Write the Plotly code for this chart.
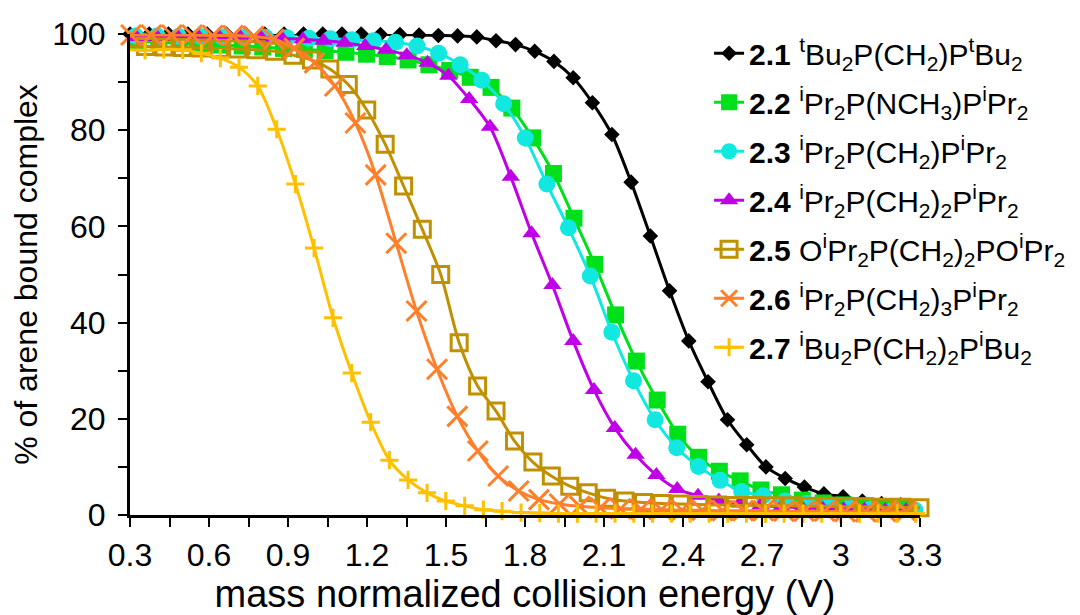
import plotly.graph_objects as go

# ---------------- data ----------------
x_21 = [0.300, 0.373, 0.446, 0.520, 0.593, 0.666, 0.739, 0.812, 0.885, 0.959, 1.032, 1.105, 1.178, 1.251,
        1.325, 1.398, 1.471, 1.544, 1.617, 1.690, 1.764, 1.837, 1.910, 1.983, 2.056, 2.130, 2.203, 2.276,
        2.349, 2.422, 2.495, 2.569, 2.642, 2.715, 2.788, 2.861, 2.935, 3.008, 3.081, 3.154, 3.227]
y_21 = [100.0, 100.0, 100.0, 100.0, 100.0, 100.0, 100.0, 100.0, 100.0, 100.0, 100.0, 100.0, 100.0, 99.9,
        99.9, 99.8, 99.7, 99.6, 99.4, 98.6, 97.8, 96.4, 94.3, 90.9, 85.7, 79.1, 69.2, 58.0,
        46.6, 36.2, 27.7, 19.8, 14.6, 10.0, 7.6, 5.8, 4.4, 3.8, 2.9, 2.4, 2.1]

x_22 = [0.332, 0.410, 0.489, 0.568, 0.647, 0.726, 0.804, 0.883, 0.962, 1.041, 1.120, 1.198, 1.277, 1.356,
        1.435, 1.514, 1.592, 1.671, 1.750, 1.829, 1.908, 1.986, 2.065, 2.144, 2.223, 2.302, 2.380, 2.459,
        2.538, 2.617, 2.696, 2.774, 2.853, 2.932, 3.011, 3.090, 3.168, 3.247]
y_22 = [98.5, 98.3, 98.1, 97.9, 97.7, 97.5, 97.3, 97.0, 96.8, 96.5, 96.2, 95.8, 95.3, 94.6,
        93.6, 92.4, 91.0, 88.9, 84.6, 78.4, 71.0, 61.7, 52.1, 41.6, 32.0, 23.9, 16.8, 12.0,
        9.1, 7.1, 5.2, 4.2, 3.1, 2.5, 2.1, 1.9, 1.5, 1.4]

x_23 = [0.321, 0.403, 0.485, 0.568, 0.650, 0.732, 0.814, 0.896, 0.979, 1.061, 1.143, 1.225, 1.308, 1.390,
        1.472, 1.554, 1.636, 1.719, 1.801, 1.883, 1.965, 2.048, 2.130, 2.212, 2.294, 2.376, 2.459, 2.541,
        2.623, 2.705, 2.788, 2.870, 2.952, 3.034, 3.116, 3.199, 3.281]
y_23 = [99.6, 99.6, 99.5, 99.5, 99.4, 99.4, 99.3, 99.2, 99.1, 99.0, 98.8, 98.6, 98.3, 97.5,
        96.0, 93.6, 90.4, 85.5, 78.4, 68.8, 59.7, 49.7, 38.0, 27.9, 19.8, 14.0, 10.1, 7.2,
        4.9, 4.0, 2.9, 2.4, 1.9, 1.6, 1.3, 1.1, 1.0]

x_24 = [0.324, 0.403, 0.482, 0.561, 0.640, 0.719, 0.798, 0.877, 0.956, 1.035, 1.114, 1.193, 1.272, 1.351,
        1.430, 1.509, 1.588, 1.667, 1.746, 1.825, 1.904, 1.983, 2.062, 2.141, 2.220, 2.299, 2.378, 2.457,
        2.536, 2.615, 2.694, 2.773, 2.852, 2.931, 3.010, 3.089, 3.168, 3.247]
y_24 = [99.4, 99.4, 99.4, 99.4, 99.3, 99.3, 99.2, 99.1, 98.9, 98.6, 98.2, 97.5, 96.7, 95.6,
        94.0, 91.3, 86.5, 80.7, 70.3, 58.6, 47.8, 36.2, 26.0, 18.1, 12.5, 8.3, 5.4, 4.0,
        3.0, 2.4, 2.0, 1.7, 1.5, 1.3, 1.2, 1.1, 1.0, 1.0]

x_25 = [0.289, 0.359, 0.429, 0.499, 0.569, 0.639, 0.709, 0.779, 0.849, 0.919, 0.989, 1.059, 1.129, 1.199,
        1.269, 1.339, 1.410, 1.480, 1.550, 1.620, 1.690, 1.760, 1.830, 1.900, 1.970, 2.040, 2.110, 2.180,
        2.250, 2.320, 2.390, 2.460, 2.531, 2.601, 2.671, 2.741, 2.811, 2.881, 2.951, 3.021, 3.091, 3.161,
        3.231, 3.300]
y_25 = [97.5, 97.4, 97.3, 97.2, 97.1, 97.0, 96.9, 96.7, 96.4, 95.6, 94.6, 92.7, 89.5, 84.2,
        77.1, 68.4, 59.4, 50.0, 35.8, 26.8, 21.6, 15.4, 11.0, 8.1, 6.0, 4.6, 3.5, 2.9,
        2.6, 2.4, 2.3, 2.2, 2.1, 2.0, 2.0, 1.9, 1.9, 1.8, 1.8, 1.7, 1.7, 1.6,
        1.6, 1.5]

x_26 = [0.304, 0.381, 0.459, 0.536, 0.614, 0.691, 0.769, 0.846, 0.924, 1.001, 1.078, 1.156, 1.233, 1.311,
        1.388, 1.466, 1.543, 1.621, 1.698, 1.776, 1.853, 1.931, 2.008, 2.086, 2.163, 2.241, 2.318, 2.396,
        2.473, 2.550, 2.628, 2.705, 2.783, 2.860, 2.938, 3.015, 3.093, 3.170, 3.248]
y_26 = [99.8, 99.8, 99.8, 99.8, 99.7, 99.7, 99.5, 98.9, 97.0, 94.0, 89.2, 81.5, 70.7, 56.5,
        42.4, 30.3, 20.5, 13.3, 8.1, 5.0, 3.2, 2.3, 1.8, 1.5, 1.3, 1.2, 1.1, 1.0,
        1.0, 0.9, 0.9, 0.9, 0.8, 0.8, 0.8, 0.7, 0.7, 0.7, 0.7]

x_27 = [0.286, 0.357, 0.428, 0.500, 0.571, 0.643, 0.714, 0.785, 0.857, 0.928, 0.999, 1.071, 1.142, 1.214,
        1.285, 1.356, 1.428, 1.499, 1.571, 1.642, 1.713, 1.785, 1.856, 1.927, 1.999, 2.070, 2.142, 2.213,
        2.284, 2.356, 2.427, 2.499, 2.570, 2.641, 2.713, 2.784, 2.856, 2.927, 2.999, 3.070, 3.141, 3.213,
        3.284]
y_27 = [96.8, 96.6, 96.8, 96.7, 96.0, 95.0, 93.1, 89.2, 80.2, 68.8, 55.5, 41.0, 29.5, 19.3,
        11.4, 7.3, 4.6, 2.9, 1.9, 1.1, 0.8, 0.5, 0.4, 0.3, 0.3, 0.3, 0.3, 0.3,
        0.3, 0.3, 0.3, 0.3, 0.3, 0.3, 0.3, 0.3, 0.3, 0.3, 0.3, 0.3, 0.3, 0.3,
        0.3]

series_names = [
    "<b>2.1</b> <sup>t</sup>Bu<sub>2</sub>P(CH<sub>2</sub>)P<sup>t</sup>Bu<sub>2</sub>",
    "<b>2.2</b> <sup>i</sup>Pr<sub>2</sub>P(NCH<sub>3</sub>)P<sup>i</sup>Pr<sub>2</sub>",
    "<b>2.3</b> <sup>i</sup>Pr<sub>2</sub>P(CH<sub>2</sub>)P<sup>i</sup>Pr<sub>2</sub>",
    "<b>2.4</b> <sup>i</sup>Pr<sub>2</sub>P(CH<sub>2</sub>)<sub>2</sub>P<sup>i</sup>Pr<sub>2</sub>",
    "<b>2.5</b> O<sup>i</sup>Pr<sub>2</sub>P(CH<sub>2</sub>)<sub>2</sub>PO<sup>i</sup>Pr<sub>2</sub>",
    "<b>2.6</b> <sup>i</sup>Pr<sub>2</sub>P(CH<sub>2</sub>)<sub>3</sub>P<sup>i</sup>Pr<sub>2</sub>",
    "<b>2.7</b> <sup>i</sup>Bu<sub>2</sub>P(CH<sub>2</sub>)<sub>2</sub>P<sup>i</sup>Bu<sub>2</sub>",
]

x_tick_vals = [0.3, 0.6, 0.9, 1.2, 1.5, 1.8, 2.1, 2.4, 2.7, 3.0, 3.3]
x_tick_text = ["0.3", "0.6", "0.9", "1.2", "1.5", "1.8", "2.1", "2.4", "2.7", "3", "3.3"]
y_tick_vals = [0, 20, 40, 60, 80, 100]

# ---------------- styles ----------------
styles = [
    dict(color="#000000", symbol="diamond", size=12, open=False),
    dict(color="#00E01A", symbol="square", size=17, open=False),
    dict(color="#10E8E0", symbol="circle", size=17, open=False),
    dict(color="#C000E6", symbol="triangle-up", size=16, open=False),
    dict(color="#C09000", symbol="square-open", size=16, open=True),
    dict(color="#FF7F2A", symbol="x-thin-open", size=20, open=True),
    dict(color="#FFC000", symbol="cross-thin-open", size=13, open=True),
]

xs = [x_21, x_22, x_23, x_24, x_25, x_26, x_27]
ys = [y_21, y_22, y_23, y_24, y_25, y_26, y_27]

FONT = "Liberation Sans, Arial, sans-serif"

fig = go.Figure()
for i, (xv, yv, nm, st) in enumerate(zip(xs, ys, series_names, styles)):
    marker = dict(symbol=st["symbol"], size=st["size"], color=st["color"])
    if st["open"]:
        marker["line"] = dict(width=3, color=st["color"])
    else:
        marker["line"] = dict(width=0)
    fig.add_trace(go.Scatter(
        x=xv, y=yv, name=nm, mode="lines+markers",
        line=dict(color=st["color"], width=3, shape="spline", smoothing=0.8),
        marker=marker, cliponaxis=False, legendgroup=str(i),
    ))

fig.update_layout(
    width=1080, height=615,
    margin=dict(l=122, r=168, t=26, b=108, autoexpand=False),
    paper_bgcolor="white", plot_bgcolor="white",
    font=dict(family=FONT, color="black", size=32),
    showlegend=True,
    legend=dict(
        x=0.733, y=1.014, xanchor="left", yanchor="top",
        bgcolor="rgba(0,0,0,0)", font=dict(size=30, family=FONT, color="black"),
        itemwidth=30, tracegroupgap=7, traceorder="grouped", maxheight=600,
    ),
    xaxis=dict(
        range=[0.3, 3.3], tickmode="array", tickvals=x_tick_vals, ticktext=x_tick_text,
        ticks="outside", ticklen=9, tickwidth=2, tickcolor="black", ticklabelstandoff=1,
        minor=dict(dtick=0.15, tick0=0.3, ticks="outside", ticklen=9, tickwidth=2, tickcolor="black"),
        showline=True, linecolor="black", linewidth=3, showgrid=False, zeroline=False,
        automargin=False,
        tickfont=dict(size=32, family=FONT),
        title=dict(text="mass normalized collision energy (V)", font=dict(size=38, family=FONT), standoff=0),
    ),
    yaxis=dict(
        range=[0, 100], tickmode="array", tickvals=y_tick_vals,
        ticks="outside", ticklen=9, tickwidth=2, tickcolor="black", ticklabelstandoff=6,
        minor=dict(dtick=10, tick0=0, ticks="outside", ticklen=9, tickwidth=2, tickcolor="black"),
        showline=True, linecolor="black", linewidth=3, showgrid=False, zeroline=False,
        automargin=False,
        tickfont=dict(size=32, family=FONT),
        title=dict(text="% of arene bound complex", font=dict(size=32, family=FONT), standoff=8),
    ),
)

fig.write_html("out.html")
